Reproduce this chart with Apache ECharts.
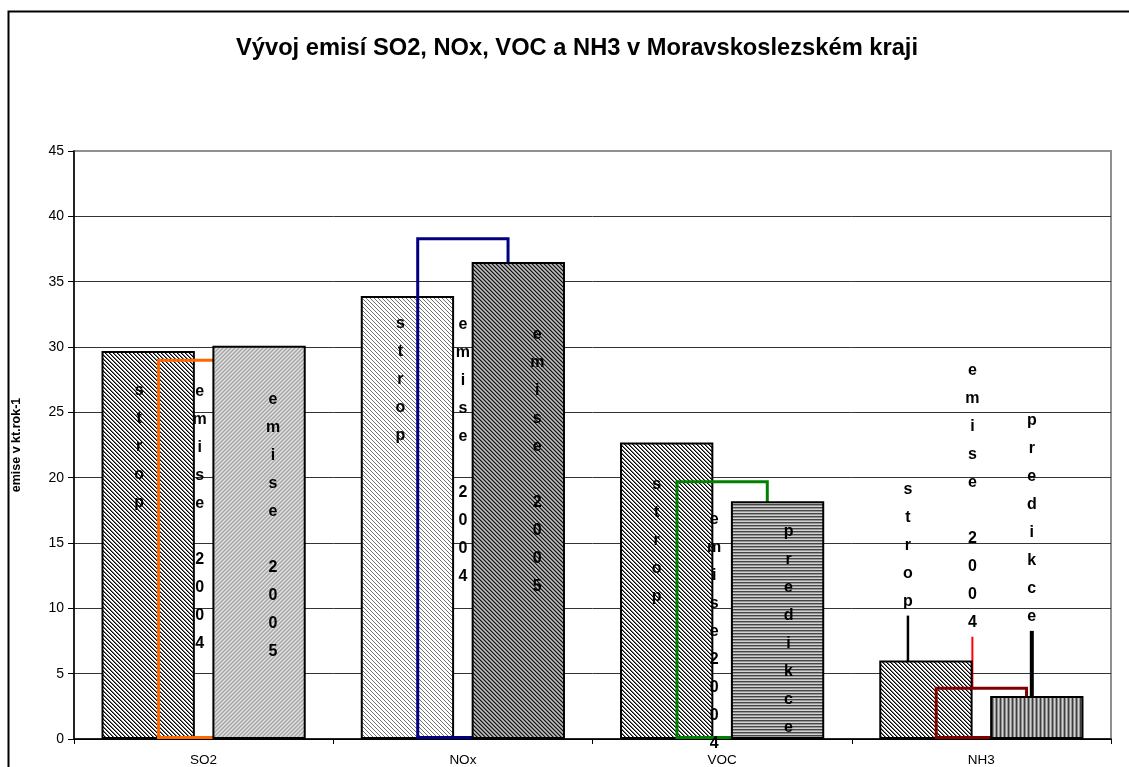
<!DOCTYPE html>
<html>
<head>
<meta charset="utf-8">
<title>Vývoj emisí SO2, NOx, VOC a NH3 v Moravskoslezském kraji</title>
<script src="https://cdn.jsdelivr.net/npm/echarts@6/dist/echarts.min.js"></script>
<style>
  html, body { margin: 0; padding: 0; background: #fff; }
  #chart { width: 1129px; height: 767px; }
</style>
</head>
<body>
<div id="chart"></div>
<script>
// Emissions per pollutant (kt per year)
const categories = ['SO2', 'NOx', 'VOC', 'NH3'];
const stropValues = [29.7, 33.9, 22.7, 6.0];
const emise2004Values = [29.1, 38.4, 19.8, 4.0];
const emise2005Values = [30.1, 36.5, 18.2, 3.3];   // SO2, NOx: emise 2005; VOC, NH3: predikce
const yTicks = [0, 5, 10, 15, 20, 25, 30, 35, 40, 45];

// Text written down each bar, one letter per line
const stropLabels = ['strop', 'strop', 'strop', 'strop'];
const emise2004Labels = ['emise 2004', 'emise 2004', 'emise2004', 'emise 2004'];
const thirdLabels = ['emise 2005', 'emise 2005', 'predikce', 'predikce'];

// Label placement: [dx from bar centre, dy from bar top to first letter centre]
const labelOffsets = [
  [[-9, 40], [-7, 28], [-10, 42], [-18, -171]],
  [[-4, 33], [0, 87], [-8, 39], [-9, -316]],
  [[14, 54], [19, 73], [11, 30], [-5, -275]]
];
const LINE_H = 28;

// Pixel fill patterns for the bars
function makePattern(size, fn) {
  const c = document.createElement('canvas');
  c.width = size; c.height = size;
  const ctx = c.getContext('2d');
  const img = ctx.createImageData(size, size);
  for (let y = 0; y < size; y++) {
    for (let x = 0; x < size; x++) {
      const v = fn(x, y);
      const i = (y * size + x) * 4;
      img.data[i] = v; img.data[i + 1] = v; img.data[i + 2] = v; img.data[i + 3] = 255;
    }
  }
  ctx.putImageData(img, 0, 0);
  return { image: c, repeat: 'repeat' };
}
const hatchDark = makePattern(4, (x, y) => [0, 120, 255, 255][(x - y + 8) % 4]);
const hatchLight = makePattern(4, (x, y) => [110, 255, 255, 255][(x - y + 8) % 4]);
const greyForward = makePattern(4, (x, y) => [228, 192, 168, 192][(x + y) % 4]);
const greyDarkDiag = makePattern(4, (x, y) => [20, 110, 190, 150][(x - y + 8) % 4]);
const greyHoriz = makePattern(3, (x, y) => [70, 150, 210][y % 3]);
const greyVert = makePattern(4, (x, y) => [60, 140, 210, 150][x % 4]);

const stropFills = [hatchDark, hatchLight, hatchDark, hatchDark];
const thirdFills = [greyForward, greyDarkDiag, greyHoriz, greyVert];
const emise2004Colors = ['#FF6600', '#000080', '#008000', '#800000'];

// Leader lines from detached labels (NH3 group)
const leaderLines = [
  [null, null, null, { color: '#000', width: 2.5 }],
  [null, null, null, { color: '#FF0000', width: 2 }],
  [null, null, null, { color: '#000', width: 4 }]
];

const FONT = '"Liberation Sans", Arial, sans-serif';

function letters(s) { return s.split('').join('\n'); }

function buildData(values, texts, fills, borderColors, borderWidth, seriesIdx) {
  return values.map((v, i) => {
    const item = {
      value: v,
      itemStyle: {
        color: fills ? fills[i] : 'rgba(0,0,0,0)',
        borderColor: borderColors ? borderColors[i] : '#000',
        borderWidth: borderWidth
      },
      label: { formatter: letters(texts[i]) }
    };
    const ll = leaderLines[seriesIdx][i];
    if (ll) {
      item.labelLine = { show: true, lineStyle: { color: ll.color, width: ll.width } };
    }
    return item;
  });
}

const labelStyle = {
  show: true,
  position: 'insideTop',
  fontFamily: FONT,
  fontSize: 16,
  fontWeight: 'bold',
  color: '#000',
  lineHeight: LINE_H,
  align: 'center'
};

function layoutLabel(params) {
  const off = labelOffsets[params.seriesIndex][params.dataIndex];
  const r = params.rect;
  return {
    x: r.x + r.width / 2 + off[0],
    y: r.y + off[1] - LINE_H / 2,
    align: 'center',
    verticalAlign: 'top'
  };
}

const chart = echarts.init(document.getElementById('chart'), null, { renderer: 'canvas' });

const option = {
  animation: false,
  backgroundColor: '#fff',
  grid: {
    left: 74, right: 18, top: 151, bottom: 27,
    show: true, borderColor: '#909090', borderWidth: 2, backgroundColor: 'transparent'
  },
  graphic: [
    {
      type: 'rect', z: 0, silent: true,
      shape: { x: 8.5, y: 11.5, width: 1200, height: 800 },
      style: { fill: 'none', stroke: '#000', lineWidth: 2 }
    },
    {
      type: 'text', silent: true,
      x: 577, y: 48,
      style: {
        text: 'Vývoj emisí SO2, NOx, VOC a NH3 v Moravskoslezském kraji',
        font: 'bold 23.7px ' + FONT,
        fill: '#000',
        align: 'center',
        verticalAlign: 'middle'
      }
    }
  ],
  xAxis: {
    type: 'category',
    data: categories,
    axisLine: { show: true, lineStyle: { color: '#000', width: 1.5 } },
    axisTick: { show: true, length: 5, interval: 0, lineStyle: { color: '#000' } },
    axisLabel: { fontFamily: FONT, fontSize: 13.5, color: '#000', margin: 14 },
    splitLine: { show: false }
  },
  yAxis: {
    type: 'value',
    min: yTicks[0],
    max: yTicks[yTicks.length - 1],
    interval: yTicks[1] - yTicks[0],
    name: 'emise v kt.rok-1',
    nameLocation: 'middle',
    nameGap: 51,
    nameRotate: 90,
    nameTextStyle: { fontFamily: FONT, fontSize: 12.5, fontWeight: 'bold', color: '#000' },
    axisLine: { show: true, lineStyle: { color: '#000', width: 1.5 } },
    axisTick: { show: true, length: 6, lineStyle: { color: '#000' } },
    axisLabel: { fontFamily: FONT, fontSize: 14, color: '#000', margin: 10 },
    splitLine: {
      show: true,
      lineStyle: {
        color: ['#000', '#333', '#333', '#333', '#333', '#333', '#333', '#333', '#333', '#909090'],
        width: 1
      }
    }
  },
  series: [
    {
      name: 'strop',
      type: 'bar',
      barWidth: '36%',
      barGap: '-40.6%',
      data: buildData(stropValues, stropLabels, stropFills, null, 2, 0),
      label: labelStyle,
      labelLayout: layoutLabel,
      labelLine: { show: false }
    },
    {
      name: 'emise 2004',
      type: 'bar',
      barWidth: '36%',
      barGap: '-40.6%',
      data: buildData(emise2004Values, emise2004Labels, null, emise2004Colors, 3, 1),
      label: labelStyle,
      labelLayout: layoutLabel,
      labelLine: { show: false }
    },
    {
      name: 'emise 2005 / predikce',
      type: 'bar',
      barWidth: '36%',
      barGap: '-40.6%',
      data: buildData(emise2005Values, thirdLabels, thirdFills, null, 2, 2),
      label: labelStyle,
      labelLayout: layoutLabel,
      labelLine: { show: false }
    }
  ]
};

chart.setOption(option);
</script>
</body>
</html>
